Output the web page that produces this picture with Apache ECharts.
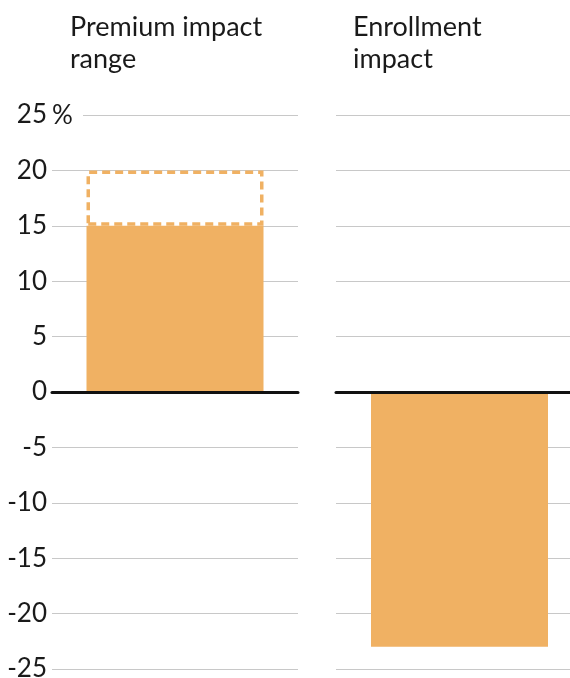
<!DOCTYPE html>
<html>
<head>
<meta charset="utf-8">
<script src="https://cdn.jsdelivr.net/npm/echarts@6/dist/echarts.min.js"></script>
<style>
html,body{margin:0;padding:0;background:#fff;}
#chart{width:570px;height:678px;}
</style>
</head>
<body>
<div id="chart"></div>
<script>
// Data
const panelTitles = ['Premium impact\nrange', 'Enrollment\nimpact'];
const premiumCategory = ['Premium impact range'];
const enrollmentCategory = ['Enrollment impact'];
const premiumLow = [15];
const premiumHigh = [20];
const enrollmentValues = [-23];
const yTicks = [-25, -20, -15, -10, -5, 0, 5, 10, 15, 20, 25];

const ORANGE = '#f0b163';
const FONT = 'Lato';
const TXT = '#1a1a1a';
const premiumRangeExtra = premiumHigh.map((v, i) => v - premiumLow[i]);

const chart = echarts.init(document.getElementById('chart'), null, {renderer: 'canvas'});

const yAxisBase = (showLabels) => ({
  type: 'value',
  min: yTicks[0],
  max: yTicks[yTicks.length - 1],
  interval: 5,
  axisLine: {show: false},
  axisTick: {show: false},
  splitLine: {show: true, lineStyle: {color: '#c8c8c8', width: 1}},
  axisLabel: {
    show: showLabels,
    margin: 5,
    color: TXT,
    fontFamily: FONT,
    fontSize: 26,
    formatter: v => String(v)
  }
});

const xAxisBase = (idx, cats) => ({
  type: 'category',
  gridIndex: idx,
  data: cats,
  z: 5,
  axisLine: {show: true, onZero: true, lineStyle: {color: '#111', width: 3}},
  axisTick: {show: false},
  axisLabel: {show: false},
  splitLine: {show: false}
});

const titleStyle = {fontFamily: FONT, fontSize: 27, fontWeight: 'normal', color: TXT, lineHeight: 32};

chart.setOption({
  animation: false,
  backgroundColor: '#fff',
  title: [
    {text: panelTitles[0], left: 65, top: 6, textStyle: titleStyle},
    {text: panelTitles[1], left: 348, top: 6, textStyle: titleStyle}
  ],
  grid: [
    {left: 52, width: 246, top: 115, bottom: 9, containLabel: false, outerBoundsMode: 'none'},
    {left: 336, width: 247, top: 115, bottom: 9, containLabel: false, outerBoundsMode: 'none'}
  ],
  xAxis: [xAxisBase(0, premiumCategory), xAxisBase(1, enrollmentCategory)],
  yAxis: [
    Object.assign(yAxisBase(true), {gridIndex: 0}),
    Object.assign(yAxisBase(false), {gridIndex: 1})
  ],
  graphic: [
    {type: 'rect', shape: {x: 49, y: 112, width: 34, height: 6}, style: {fill: '#fff'}, z: 100},
    {type: 'text', x: 52, y: 116, style: {text: '%', fontFamily: FONT, fontSize: 26, fill: TXT, verticalAlign: 'middle'}, z: 101}
  ],
  series: [
    {
      type: 'bar', xAxisIndex: 0, yAxisIndex: 0, stack: 'premium',
      data: premiumLow, barWidth: 177,
      itemStyle: {color: ORANGE}
    },
    {
      type: 'bar', xAxisIndex: 0, yAxisIndex: 0, stack: 'premium',
      data: premiumRangeExtra, barWidth: 177,
      itemStyle: {color: 'rgba(0,0,0,0)', borderColor: ORANGE, borderWidth: 3.5, borderType: [8, 5]}
    },
    {
      type: 'bar', xAxisIndex: 1, yAxisIndex: 1,
      data: enrollmentValues, barWidth: 177,
      itemStyle: {color: ORANGE}
    }
  ]
});
</script>
</body>
</html>
